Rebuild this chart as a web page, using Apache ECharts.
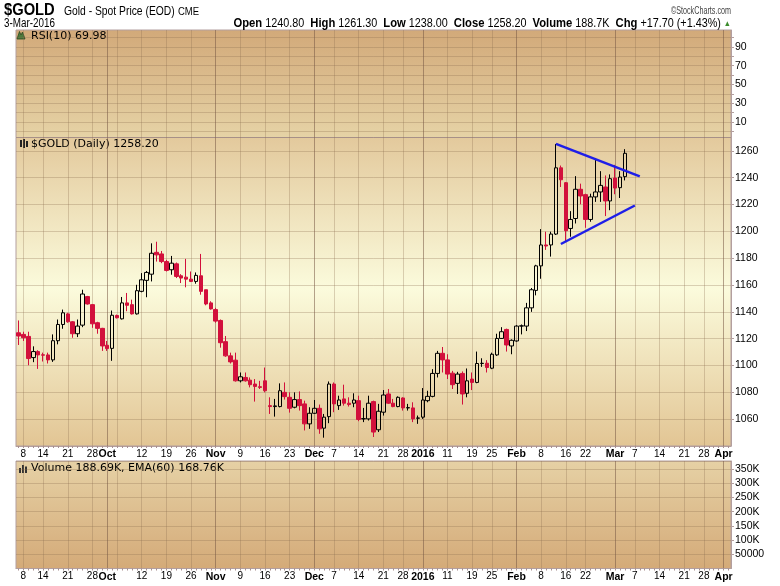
<!DOCTYPE html>
<html><head><meta charset="utf-8">
<script src="https://cdn.jsdelivr.net/npm/echarts@6/dist/echarts.min.js"></script>
<style>html,body{margin:0;padding:0;background:#fff}#c{width:780px;height:586px}</style>
</head><body><div id="c"></div>
<script>
// ---- trading days (categories) ----
const sepDays = [4,8,9,10,11,14,15,16,17,18,21,22,23,24,25,28,29,30];
const octDays = [1,2,5,6,7,8,9,12,13,14,15,16,19,20,21,22,23,26,27,28,29,30];
const novDays = [2,3,4,5,6,9,10,11,12,13,16,17,18,19,20,23,24,25,27,30];
const decDays = [1,2,3,4,7,8,9,10,11,14,15,16,17,18,21,22,23,24,28,29,30,31];
const janDays = [4,5,6,7,8,11,12,13,14,15,19,20,21,22,25,26,27,28,29];
const febDays = [1,2,3,4,5,8,9,10,11,12,16,17,18,19,22,23,24,25,26,29];
const marDays = [1,2,3,4,7,8,9,10,11,14,15,16,17,18,21,22,23,24,28,29,30,31];
const aprDays = [1,4];
const monthDays = [['2015-09',sepDays],['2015-10',octDays],['2015-11',novDays],['2015-12',decDays],
                   ['2016-01',janDays],['2016-02',febDays],['2016-03',marDays],['2016-04',aprDays]];
const categories = [];
monthDays.forEach(([ym, days]) => days.forEach(d => categories.push(ym + '-' + String(d).padStart(2, '0'))));

// ---- OHLC (Sep 4 2015 .. Mar 3 2016) ----
const opens = [1124.4,1123.2,1121.7,1105.9,1110.4,1108.0,1107.9,1104.2,1118.5,1130.6,
1138.5,1132.6,1123.7,1130.1,1151.4,1145.4,1131.9,1127.7,1115.1,1112.8,
1137.3,1134.8,1146.7,1145.4,1138.5,1155.3,1163.5,1168.1,1184.4,1183.2,
1177.5,1171.4,1175.8,1166.9,1165.9,1164.4,1162.7,1166.9,1156.5,1146.7,
1141.7,1133.6,1117.8,1107.2,1104.0,1088.6,1091.1,1089.1,1086.2,1084.2,
1088.6,1070.1,1069.4,1069.4,1080.0,1076.3,1068.9,1074.6,1071.4,1056.5,
1064.4,1068.1,1053.3,1061.9,1086.2,1070.1,1075.1,1071.9,1071.9,1073.8,
1060.2,1060.2,1073.1,1052.1,1065.2,1078.8,1071.9,1069.4,1075.8,1068.4,
1068.4,1060.7,1061.5,1073.8,1077.0,1094.1,1109.1,1104.2,1094.3,1086.7,
1094.1,1079.3,1089.9,1087.4,1101.5,1101.7,1098.0,1107.9,1120.2,1126.9,
1114.6,1118.3,1129.4,1129.4,1143.0,1156.0,1174.3,1189.9,1189.9,1198.0,
1247.4,1236.3,1202.2,1209.6,1231.4,1227.4,1208.9,1225.7,1229.4,1233.1,
1222.7,1239.8,1232.6,1240.8];
const highs = [1133.6,1125.2,1125.2,1114.3,1111.4,1109.6,1109.6,1123.2,1134.3,1141.7,
1139.3,1133.1,1134.3,1156.5,1151.9,1145.9,1132.6,1128.1,1118.3,1141.0,
1138.0,1151.1,1154.1,1149.1,1160.2,1168.9,1170.5,1191.1,1192.3,1185.4,
1178.8,1181.7,1176.8,1168.1,1179.5,1170.1,1169.4,1183.2,1156.5,1147.9,
1143.0,1134.3,1122.0,1109.6,1109.6,1094.8,1094.8,1091.1,1089.9,1088.6,
1098.5,1076.3,1075.1,1086.7,1087.4,1080.0,1080.0,1080.7,1073.8,1068.9,
1074.3,1070.9,1063.9,1088.1,1087.4,1077.5,1085.7,1076.3,1079.3,1077.5,
1068.4,1077.5,1073.8,1071.4,1081.7,1082.5,1075.1,1077.0,1076.3,1071.4,
1072.6,1062.7,1083.2,1081.2,1097.3,1110.9,1113.8,1108.4,1096.0,1095.3,
1095.6,1097.8,1094.8,1110.4,1105.4,1104.0,1109.6,1123.7,1128.6,1127.5,
1119.5,1130.1,1130.6,1146.7,1157.8,1175.1,1201.7,1199.8,1199.8,1265.2,
1249.1,1236.8,1215.1,1241.2,1235.6,1228.1,1228.1,1254.6,1244.9,1241.7,
1242.5,1249.6,1244.9,1261.3];
const lows = [1115.3,1118.3,1100.2,1102.5,1097.5,1103.0,1101.5,1102.7,1115.8,1127.4,
1131.9,1120.7,1121.2,1128.6,1145.4,1128.1,1123.7,1110.9,1110.9,1103.5,
1135.1,1134.3,1140.5,1138.0,1138.0,1154.6,1150.9,1162.7,1177.5,1176.3,
1170.1,1167.7,1165.2,1161.5,1158.3,1162.2,1161.0,1152.8,1144.9,1141.7,
1131.9,1113.3,1106.5,1101.5,1088.0,1087.4,1088.0,1083.7,1073.1,1082.5,
1080.0,1063.9,1061.9,1068.8,1074.6,1064.9,1068.1,1066.4,1051.6,1052.8,
1063.9,1049.1,1046.2,1057.0,1065.2,1066.9,1070.1,1069.4,1068.9,1058.5,
1057.8,1059.0,1046.7,1050.4,1062.7,1071.4,1068.9,1068.9,1066.4,1066.4,
1057.8,1056.5,1060.2,1072.6,1076.3,1091.1,1094.8,1089.9,1082.5,1078.8,
1070.9,1076.3,1081.7,1086.8,1099.0,1094.8,1097.3,1107.2,1119.8,1110.4,
1108.4,1117.8,1123.2,1125.7,1140.0,1152.3,1164.7,1186.2,1181.2,1197.3,
1233.1,1192.8,1196.0,1205.9,1220.2,1202.7,1207.2,1222.0,1222.0,1211.4,
1215.8,1227.7,1224.9,1238.0];
const closes = [1122.0,1120.7,1105.2,1110.4,1107.9,1107.7,1104.2,1118.5,1130.6,1139.3,
1132.6,1123.7,1129.4,1153.3,1145.9,1131.1,1127.7,1114.6,1112.6,1137.5,
1135.6,1146.7,1144.9,1138.5,1155.8,1163.9,1169.4,1183.7,1182.5,1177.5,
1170.9,1176.3,1166.4,1165.2,1164.4,1162.7,1167.2,1155.3,1145.9,1142.2,
1133.1,1117.0,1107.2,1102.7,1088.6,1091.6,1088.6,1085.7,1084.4,1083.7,
1081.2,1069.4,1069.9,1081.2,1076.8,1068.1,1074.6,1070.1,1056.5,1064.4,
1068.1,1052.8,1061.5,1086.2,1071.4,1074.3,1071.9,1070.9,1074.3,1059.8,
1060.4,1071.9,1050.4,1065.9,1078.0,1071.9,1069.4,1076.3,1068.4,1068.6,
1060.2,1060.9,1074.3,1077.0,1094.1,1109.1,1104.2,1093.6,1085.7,1093.6,
1078.8,1088.6,1087.4,1101.5,1101.7,1098.5,1108.4,1120.2,1125.2,1115.3,
1118.8,1129.4,1129.6,1143.0,1156.5,1174.3,1189.9,1189.1,1198.0,1247.4,
1238.5,1200.5,1208.9,1231.4,1226.4,1208.9,1225.7,1229.4,1234.3,1222.7,
1239.3,1232.3,1240.5,1258.2];

// ---- trend lines [categoryIndex, price] ----
const upperTrend = [[109, 1265.2], [126, 1241.0]];
const lowerTrend = [[110, 1190.6], [125, 1219.3]];

// ---- x tick labels / grid lines ----
const xLabelDates = ['2015-09-08','2015-09-14','2015-09-21','2015-09-28','2015-10-01','2015-10-12','2015-10-19','2015-10-26',
 '2015-11-02','2015-11-09','2015-11-16','2015-11-23','2015-12-01','2015-12-07','2015-12-14','2015-12-21','2015-12-28',
 '2016-01-04','2016-01-11','2016-01-19','2016-01-25','2016-02-01','2016-02-08','2016-02-16','2016-02-22',
 '2016-03-01','2016-03-07','2016-03-14','2016-03-21','2016-03-28','2016-04-01'];
const xLabelTexts = ['8','14','21','28','Oct','12','19','26','Nov','9','16','23','Dec','7','14','21','28',
 '2016','11','19','25','Feb','8','16','22','Mar','7','14','21','28','Apr'];
const boldLabels = ['Oct','Nov','Dec','2016','Feb','Mar','Apr'];
const monthLineDates = ['2015-10-01','2015-11-02','2015-12-01','2016-01-04','2016-02-01','2016-03-01','2016-04-01'];
const weekLineDates = ['2015-09-08','2015-09-14','2015-09-21','2015-09-28','2015-10-05','2015-10-12','2015-10-19','2015-10-26',
 '2015-11-09','2015-11-16','2015-11-23','2015-12-07','2015-12-14','2015-12-21','2015-12-28','2016-01-11','2016-01-19',
 '2016-01-25','2016-02-08','2016-02-16','2016-02-22','2016-03-07','2016-03-14','2016-03-21','2016-03-28'];
const rsiTicks = [0,10,20,30,40,50,60,70,80,90,100];
const rsiLabels = [10,30,50,70,90];

// ---- build ----
const labelMap = {};
xLabelDates.forEach((d, i) => labelMap[d] = xLabelTexts[i]);
const candleData = opens.map((o, i) => [o, closes[i], lows[i], highs[i]]);
// helper half-step axis so that split lines sit on candle centres
const halfSteps = [];
for (let j = 0; j <= categories.length * 2; j++) halfSteps.push('h' + j);
const weekIdx = new Set(weekLineDates.map(d => 2 * categories.indexOf(d) + 1));
const monthIdx = new Set(monthLineDates.map(d => 2 * categories.indexOf(d) + 1));

const FONT = '"Liberation Sans", Arial, sans-serif';
const BORDER = '#b39f9f';
const GRIDC = 'rgba(140,110,80,0.30)';
const MONTHC = 'rgba(120,90,70,0.55)';

function grad(stops) {
  return {type: 'linear', x: 0, y: 0, x2: 0, y2: 1, colorStops: stops.map(s => ({offset: s[0], color: s[1]}))};
}
const L = 16, W = 715;
const grids = [
  {left: L, width: W, top: 30, height: 107.5, show: true, borderColor: BORDER, borderWidth: 1,
   backgroundColor: grad([[0, '#d2a979'], [1, '#e6d3a6']]), outerBoundsMode: 'none'},
  {left: L, width: W, top: 137.5, height: 308.5, show: true, borderColor: BORDER, borderWidth: 1,
   backgroundColor: grad([[0, '#e3c99c'], [0.49, '#fbfbdc'], [1, '#e2c594']]), outerBoundsMode: 'none'},
  {left: L, width: W, top: 461, height: 107.5, show: true, borderColor: BORDER, borderWidth: 1,
   backgroundColor: grad([[0, '#e6d1a5'], [1, '#d4aa78']]), outerBoundsMode: 'none'}
];

const xAxes = [];
[0, 1, 2].forEach(g => {
  const withLabels = g > 0;
  xAxes.push({
    type: 'category', gridIndex: g, data: categories, boundaryGap: true, position: 'bottom',
    axisLine: {show: withLabels, lineStyle: {color: BORDER, width: 1}},
    axisTick: {show: withLabels, interval: 0, alignWithLabel: true, length: 2, lineStyle: {color: '#a88f8f'}},
    axisLabel: {
      show: withLabels, interval: (i, v) => labelMap[v] !== undefined, margin: 3,
      fontFamily: FONT, fontSize: 10, color: '#000',
      formatter: v => { const t = labelMap[v]; if (t === undefined) return ''; return boldLabels.includes(t) ? '{b|' + t + '}' : t; },
      rich: {b: {fontFamily: FONT, fontSize: 10.5, fontWeight: 'bold', color: '#000'}}
    },
    splitLine: {show: false}
  });
  xAxes.push({
    type: 'category', gridIndex: g, data: halfSteps, boundaryGap: false, position: 'bottom',
    axisLine: {show: false}, axisTick: {show: false}, axisLabel: {show: false},
    splitLine: {show: true, interval: (i) => weekIdx.has(i), lineStyle: {color: GRIDC, width: 1}}
  });
  xAxes.push({
    type: 'category', gridIndex: g, data: halfSteps, boundaryGap: false, position: 'top',
    axisLine: {show: false}, axisTick: {show: false}, axisLabel: {show: false},
    splitLine: {show: true, interval: (i) => monthIdx.has(i), lineStyle: {color: MONTHC, width: 1}}
  });
});

const yLabelStyle = {fontFamily: FONT, fontSize: 10.5, color: '#000', margin: 4};
const yAxes = [
  {type: 'value', gridIndex: 0, position: 'right', min: -6.3, max: 107.8,
   axisLine: {show: true, lineStyle: {color: BORDER}},
   axisTick: {show: true, length: 3, customValues: rsiTicks, lineStyle: {color: BORDER}},
   axisLabel: Object.assign({customValues: rsiLabels, formatter: v => String(v)}, yLabelStyle),
   splitLine: {show: true, lineStyle: {color: GRIDC}}},
  {type: 'value', gridIndex: 1, position: 'right', min: 1040, max: 1270, interval: 20,
   axisLine: {show: true, lineStyle: {color: BORDER}},
   axisTick: {show: true, length: 3, lineStyle: {color: BORDER}},
   axisLabel: Object.assign({showMinLabel: false, showMaxLabel: false, formatter: v => String(v)}, yLabelStyle),
   splitLine: {show: true, lineStyle: {color: GRIDC}}},
  {type: 'value', gridIndex: 2, position: 'right', min: 0, max: 378000, interval: 50000,
   axisLine: {show: true, lineStyle: {color: BORDER}},
   axisTick: {show: true, length: 3, lineStyle: {color: BORDER}},
   axisLabel: Object.assign({showMinLabel: false, showMaxLabel: false,
     formatter: v => v >= 100000 ? (v / 1000) + 'K' : String(v)}, yLabelStyle),
   splitLine: {show: true, lineStyle: {color: GRIDC}}}
];

const TXT = '"DejaVu Sans", Verdana, sans-serif';
const graphic = [
  {type: 'text', x: 4, y: 11, scaleX: 0.92, style: {text: '$GOLD', font: 'bold 16px ' + FONT, fill: '#000', verticalAlign: 'middle'}},
  {type: 'text', x: 64, y: 12, scaleX: 0.86, style: {text: 'Gold - Spot Price (EOD)', font: '12px ' + FONT, fill: '#000', verticalAlign: 'middle'}},
  {type: 'text', x: 178, y: 12.5, scaleX: 0.95, style: {text: 'CME', font: '10px ' + FONT, fill: '#000', verticalAlign: 'middle'}},
  {type: 'text', x: 4, y: 24, scaleX: 0.82, style: {text: '3-Mar-2016', font: '12px ' + FONT, fill: '#000', verticalAlign: 'middle'}},
  {type: 'text', x: 731, y: 11, scaleX: 0.72, style: {text: '\u00a9StockCharts.com', font: '10px ' + FONT, fill: '#444', align: 'right', verticalAlign: 'middle'}},
  {type: 'text', x: 731, y: 23.5, scaleX: 0.9, style: {
    text: '{b|Open} 1240.80  {b|High} 1261.30  {b|Low} 1238.00  {b|Close} 1258.20  {b|Volume} 188.7K  {b|Chg} +17.70 (+1.43%) {g|\u25b2}',
    font: '12px ' + FONT, fill: '#000', align: 'right', verticalAlign: 'middle',
    rich: {b: {font: 'bold 12.5px ' + FONT, fill: '#000'}, g: {font: '8px ' + FONT, fill: '#3c8c2c'}}}},
  // panel labels
  {type: 'polygon', shape: {points: [[17, 39], [19.5, 31.5], [21, 35], [22.5, 32], [25, 39]]}, style: {fill: '#4d7a3c', stroke: '#2d4a22', lineWidth: 0.8}},
  {type: 'text', x: 31, y: 36.5, style: {text: 'RSI(10) 69.98', font: '11px ' + TXT, fill: '#000', verticalAlign: 'middle'}},
  {type: 'rect', shape: {x: 20, y: 140, width: 2, height: 7}, style: {fill: '#222'}},
  {type: 'rect', shape: {x: 23, y: 139, width: 2, height: 9}, style: {fill: '#222'}},
  {type: 'rect', shape: {x: 26, y: 141, width: 2, height: 6}, style: {fill: '#222'}},
  {type: 'text', x: 31, y: 144, style: {text: '$GOLD (Daily) 1258.20', font: '11px ' + TXT, fill: '#000', verticalAlign: 'middle'}},
  {type: 'rect', shape: {x: 19, y: 468, width: 2, height: 5}, style: {fill: '#333'}},
  {type: 'rect', shape: {x: 22, y: 465, width: 2, height: 8}, style: {fill: '#333'}},
  {type: 'rect', shape: {x: 25, y: 466.5, width: 2, height: 6.5}, style: {fill: '#333'}},
  {type: 'text', x: 31, y: 468.5, style: {text: 'Volume 188.69K, EMA(60) 168.76K', font: '11px ' + TXT, fill: '#000', verticalAlign: 'middle'}}
];

const chart = echarts.init(document.getElementById('c'), null, {renderer: 'canvas'});
chart.setOption({
  animation: false,
  backgroundColor: '#fff',
  grid: grids,
  xAxis: xAxes,
  yAxis: yAxes,
  graphic: graphic,
  series: [
    {type: 'candlestick', xAxisIndex: 3, yAxisIndex: 1, data: candleData, barWidth: 4,
     itemStyle: {color: 'rgba(255,255,255,0)', color0: '#d2103c', borderColor: '#000', borderColor0: '#d2103c',
                 borderColorDoji: '#000', borderWidth: 1}},
    {type: 'line', xAxisIndex: 3, yAxisIndex: 1, data: upperTrend, symbol: 'none', z: 5,
     lineStyle: {color: '#1e1ee8', width: 2.5}},
    {type: 'line', xAxisIndex: 3, yAxisIndex: 1, data: lowerTrend, symbol: 'none', z: 5,
     lineStyle: {color: '#1e1ee8', width: 2.5}}
  ]
});
</script></body></html>
